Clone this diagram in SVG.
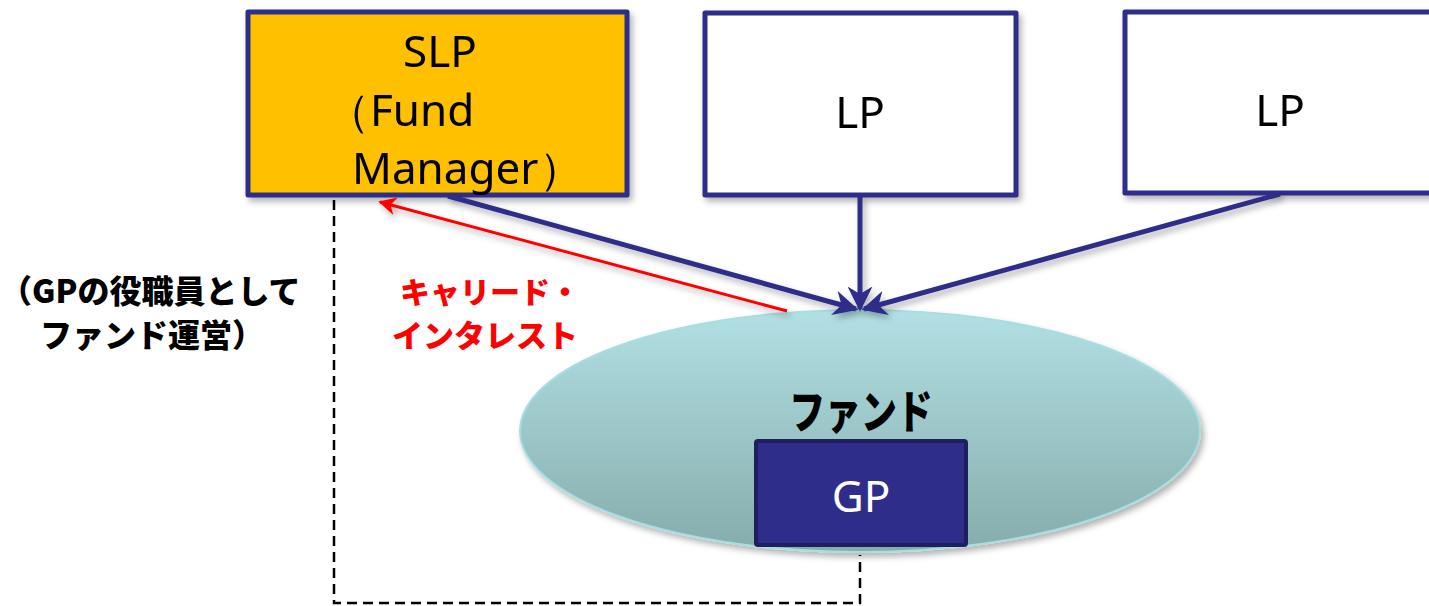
<svg xmlns="http://www.w3.org/2000/svg" width="1429" height="606" viewBox="0 0 1429 606">
<style>
.box{stroke:#2E2E8A;stroke-width:5;stroke-linejoin:round}
.lbl{font-family:"Noto Sans","DejaVu Sans",sans-serif;font-size:44px;fill:#000}
.jp{font-family:"Noto Sans CJK JP",sans-serif;font-weight:900}
.conn{stroke:#2E2E8A;stroke-width:5;fill:none}
</style>
<defs>
<linearGradient id="eg" x1="0" y1="0" x2="0" y2="1">
<stop offset="0" stop-color="#B2E0E4"/>
<stop offset="1" stop-color="#86ACAC"/>
</linearGradient>
<filter id="sh" x="-10%" y="-10%" width="130%" height="130%">
<feDropShadow dx="3" dy="4" stdDeviation="3" flood-color="#000" flood-opacity="0.3"/>
</filter>
<marker id="ah" viewBox="0 0 10 10" refX="9" refY="5" markerWidth="5" markerHeight="5" markerUnits="strokeWidth" orient="auto">
<path d="M0,0 L10,5 L0,10 L3,5 Z" fill="#2E2E8A"/>
</marker>
<marker id="ahr" viewBox="0 0 10 10" refX="9" refY="5" markerWidth="6" markerHeight="6" markerUnits="strokeWidth" orient="auto">
<path d="M0,0 L10,5 L0,10 L3,5 Z" fill="#FF0000"/>
</marker>
</defs>

<g id="dashed-frame">
<path d="M334,200 V603 H860 V555" fill="none" stroke="#000" stroke-width="2.5" stroke-dasharray="10,6"/>
</g>

<g id="fund">
<ellipse cx="860" cy="431" rx="340" ry="121" fill="url(#eg)" stroke="#A8DDE2" stroke-width="2" filter="url(#sh)"/>
<text x="861" y="428" text-anchor="middle" class="jp" font-size="46" fill="#000" transform="translate(861,0) scale(0.78,1) translate(-861,0)">ファンド</text>
</g>

<g id="gp">
<rect x="756" y="441" width="210" height="104" fill="#2E2E8A" stroke="#1F1F5E" stroke-width="4" rx="2"/>
<text x="861" y="512" text-anchor="middle" class="lbl" font-size="42" style="fill:#fff">GP</text>
</g>

<g id="slp" filter="url(#sh)">
<rect class="box" x="248" y="12" width="379" height="183" fill="#FFC000"/>
<text class="lbl" x="440" y="67" text-anchor="middle">SLP</text>
<text class="lbl" x="326" y="126">（Fund</text>
<text class="lbl" x="352" y="184">Manager）</text>
</g>

<g id="lp1" filter="url(#sh)">
<rect class="box" x="705" y="13" width="311" height="182" fill="#fff"/>
<text class="lbl" x="860" y="128" text-anchor="middle">LP</text>
</g>

<g id="lp2" filter="url(#sh)">
<rect class="box" x="1125" y="12" width="310" height="181" fill="#fff"/>
<text class="lbl" x="1280" y="126" text-anchor="middle">LP</text>
</g>

<g id="connectors" filter="url(#sh)">
<line class="conn" x1="448" y1="196" x2="856" y2="309" marker-end="url(#ah)"/>
<line class="conn" x1="860" y1="196" x2="860" y2="309" marker-end="url(#ah)"/>
<line class="conn" x1="1280" y1="194" x2="864" y2="309" marker-end="url(#ah)"/>
<line x1="787" y1="311" x2="380" y2="202" stroke="#FF0000" stroke-width="3" marker-end="url(#ahr)"/>
</g>

<g id="labels">
<text class="jp" x="400" y="303" font-size="30" fill="#FF0000">キャリード・</text>
<text class="jp" x="392" y="347" font-size="31" fill="#FF0000">インタレスト</text>
<text class="jp" x="0" y="303" font-size="32" fill="#000">（GPの役職員として</text>
<text class="jp" x="40" y="347" font-size="32" fill="#000">ファンド運営）</text>
</g>
</svg>
